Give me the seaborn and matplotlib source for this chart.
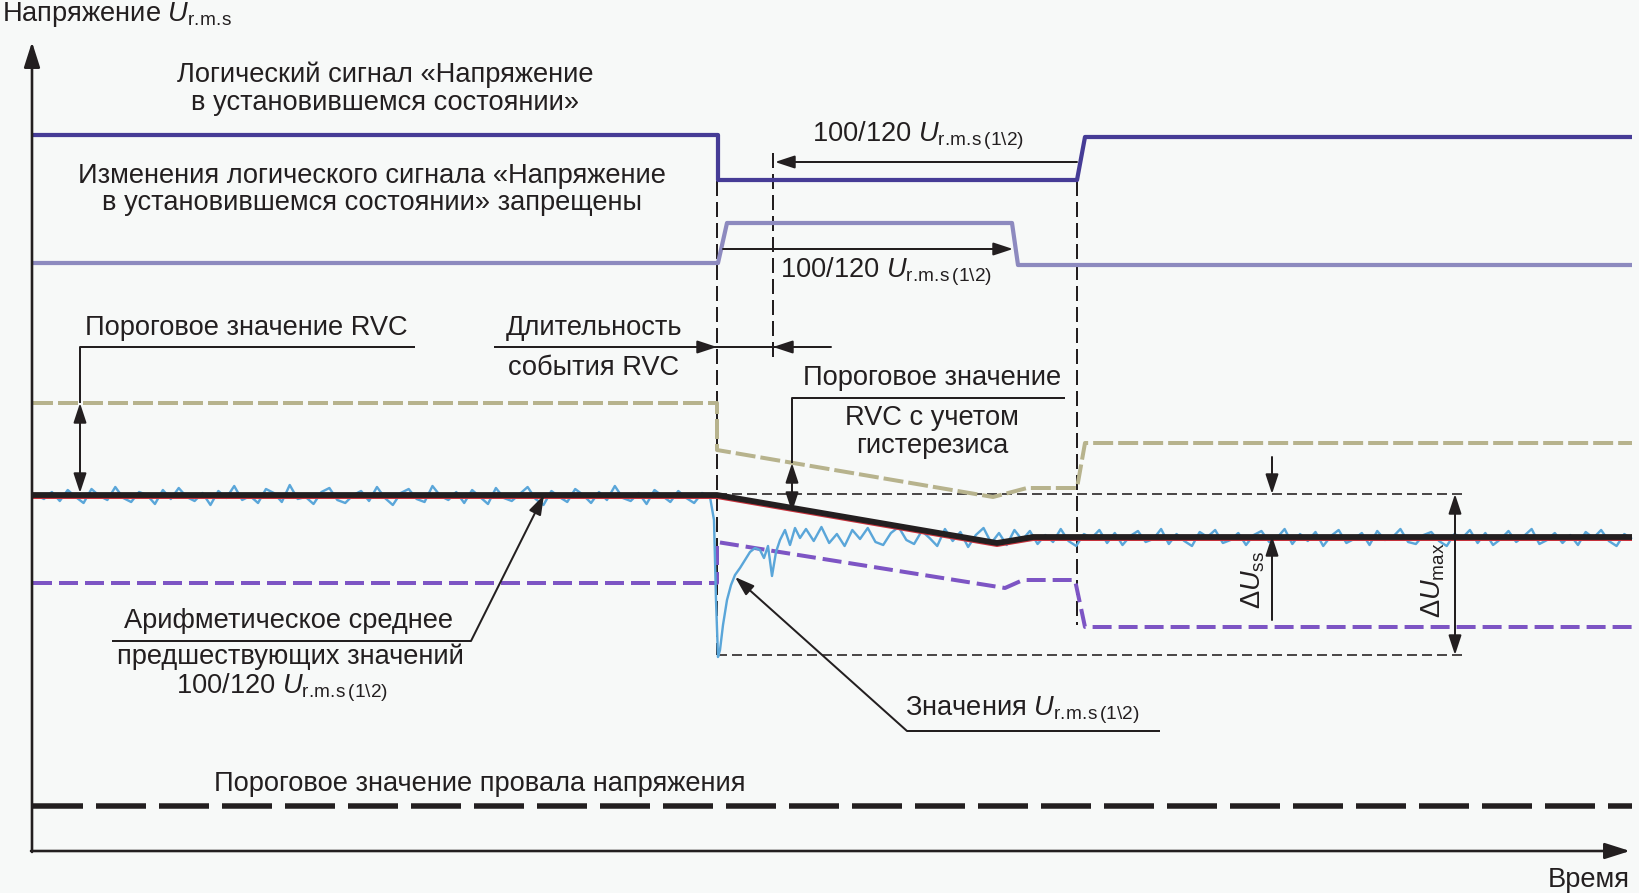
import numpy as np
import pandas as pd
import matplotlib
matplotlib.use("Agg")
import matplotlib.pyplot as plt
import seaborn as sns

# ---------------- data (time in px-like units, level in px-like units, axis inverted) -------------
time_sig1 = [33, 718, 718, 1077, 1085, 1632]
u_sig1 = [135, 135, 180, 180, 137, 137]

time_sig2 = [33, 718, 727, 1012, 1018, 1632]
u_sig2 = [263, 263, 223, 223, 265, 265]

time_upper = [33, 717, 717, 993, 1027, 1077, 1085, 1632]
u_upper = [403, 403, 450, 497, 488, 488, 443, 443]

time_lower = [33, 717, 717, 1005, 1023, 1075, 1085, 1632]
u_lower = [583, 583, 542, 588, 580, 580, 627, 627]

time_mean = [33, 717, 997, 1033, 1632]
u_mean = [495, 495, 543, 537, 537]

time_dip = [33, 1632]
u_dip = [806, 806]

pre_level = 495
pre_dev = [0, 4, -3, 6, -5, 2, 8, -6, 1, 5, -8, 3, 7, -3, 0, 9, -5, 4, -7, 2,
           6, -2, 10, -4, 3, -9, 5, 1, 8, -6, -2, 7, -10, 4, 2, 9, -3, -7, 5, 8,
           0, -4, 6, -8, 3, 10, -2, -6, 4, 7, -9, 1, 5, -3, 8, -5, 2, 9, -7, 3,
           6, -1, -8, 4, 10, -4, 2, 7, -6, 0, 8, -3, 5, -9, 3, 6, -2, 9, -5, 1,
           7, -4, 3, 8, -2, 2]
dip_t = [714, 716, 718, 720, 723, 727, 731, 735, 740, 745, 750, 755, 760, 764,
         768, 772, 776, 780, 785, 790, 795, 800]
dip_u = [520, 600, 657, 650, 625, 600, 585, 575, 568, 560, 552, 548, 550, 558,
         546, 576, 552, 540, 530, 545, 528, 538]
post_level = 537
post_dev = [-8, 4, -10, 6, -3, 9, -7, 2, -9, 5, 8, -4, -10, 3, 7, -6, 1, 9, -8, 4,
            -5, 10, -2, -9, 6, -4, 8, -7,
            3, -6, 7, -2, 5, -8, 4, 9, -3, 1, -7, 6, -4, 8, -1, -6, 5, 2, -8, 7,
            -3, 4, 9, -5, 0, -7, 6, 3, -4, 8, -2, -6, 5, 1, -8, 7, -3, 4, -5, 9,
            -1, -7, 6, 2, -4, 8, -6, 3, 0, -8, 5, 7, -2, -5, 4, 9, -3, 1, -7, 6,
            -4, 8, 2, -6, 5, -1, -8, 7, 3, -4, 6, -2, 8, -5, 1, -7, 4, 9, -3, 2]

# ---------------- style -------------
sns.set_theme(style="white")
plt.rcParams["font.family"] = ["Liberation Sans", "DejaVu Sans"]
plt.rcParams["mathtext.fontset"] = "custom"
plt.rcParams["mathtext.rm"] = "Liberation Sans"
plt.rcParams["mathtext.it"] = "Liberation Sans:italic"
plt.rcParams["mathtext.bf"] = "Liberation Sans:bold"
plt.rcParams["lines.scale_dashes"] = False
plt.rcParams["lines.solid_capstyle"] = "butt"
plt.rcParams["lines.dash_capstyle"] = "butt"

INK = "#231f20"
C_SIG1 = "#463c96"
C_SIG2 = "#8d8abf"
C_UP = "#b7b38d"
C_LOW = "#7d55c4"
C_BLUE = "#5aa6d9"
C_RED = "#c8323c"
BG = "#f7f9f8"
FS = 19.6
PX = 0.72  # px -> pt at 100 dpi

fig = plt.figure(figsize=(16.4, 8.93), dpi=100, facecolor=BG)
ax = fig.add_axes([0, 0, 1, 1])
ax.set_facecolor(BG)


def line(t, u, color, lw_px, dashes=None, z=2):
    df = pd.DataFrame({"t": t, "u": u})
    sns.lineplot(data=df, x="t", y="u", sort=False, estimator=None, color=color,
                 lw=lw_px * PX, ax=ax, legend=False)
    ln = ax.lines[-1]
    if dashes is not None:
        ln.set_dashes([d * PX for d in dashes])
    ln.set_zorder(z)
    return ln


# signals
line(time_sig1, u_sig1, C_SIG1, 4.2, z=3)
line(time_sig2, u_sig2, C_SIG2, 4.2, z=3)
line(time_upper, u_upper, C_UP, 4.0, dashes=(20, 5), z=3)
line(time_lower, u_lower, C_LOW, 4.0, dashes=(19, 7), z=3)
line(time_dip, u_dip, INK, 5.5, dashes=(50, 13), z=3)

# noisy half-cycle values
blue_t = list(np.linspace(36, 710, len(pre_dev))) + dip_t + list(np.linspace(806, 1632, len(post_dev)))
blue_u = [pre_level + d for d in pre_dev] + dip_u + [post_level + d for d in post_dev]
line(blue_t, blue_u, C_BLUE, 2.4, z=4)

# arithmetic mean line (black with red edge)
line(time_mean, [u + 2.5 for u in u_mean], C_RED, 3.0, z=5)
line(time_mean, u_mean, INK, 5.8, z=6)

# thin black dashed reference lines
ref_dash = (10, 5)
line([717, 1466], [494, 494], INK, 1.6, dashes=ref_dash, z=2)
line([717, 1466], [655, 655], INK, 1.6, dashes=ref_dash, z=2)
vdash = (15, 6)
line([717, 717], [181, 655], INK, 2.0, dashes=vdash, z=2)
line([773, 773], [153, 362], INK, 2.0, dashes=vdash, z=2)
line([1077, 1077], [181, 625], INK, 2.0, dashes=vdash, z=2)

# axes arrows
ax.annotate("", xy=(32, 42), xytext=(32, 852),
            arrowprops=dict(arrowstyle="-|>,head_length=1.1,head_width=0.35",
                            mutation_scale=14, lw=2.6 * PX, color=INK, shrinkA=0, shrinkB=0), zorder=7)
ax.annotate("", xy=(1630, 851), xytext=(31, 851),
            arrowprops=dict(arrowstyle="-|>,head_length=1.1,head_width=0.35",
                            mutation_scale=14, lw=2.6 * PX, color=INK, shrinkA=0, shrinkB=0), zorder=7)


def arrow(x0, y0, x1, y1, style="-|>"):
    ax.annotate("", xy=(x1, y1), xytext=(x0, y0),
                arrowprops=dict(arrowstyle=f"{style},head_length=0.85,head_width=0.28",
                                mutation_scale=14, lw=2.0 * PX, color=INK,
                                shrinkA=0, shrinkB=0), zorder=8)


def seg(xs, ys, lw=2.0):
    ax.plot(xs, ys, color=INK, lw=lw * PX, zorder=8, solid_capstyle="butt")


# 100/120 arrows
arrow(1077, 162, 775, 162)
arrow(723, 249, 1013, 249)

# RVC event duration
seg([494, 831], [347, 347])
arrow(600, 347, 717, 347)
arrow(831, 347, 773, 347)

# RVC threshold leader and double arrow
seg([415, 80, 80], [347, 347, 403])
arrow(80, 403, 80, 493, style="<|-|>")

# hysteresis leader
seg([1065, 792, 792], [398, 398, 463])
arrow(792, 463, 792, 512, style="<|-|>")

# arithmetic mean leader
seg([112, 471], [641, 641])
arrow(471, 641, 544, 495)

# half-cycle values leader
seg([907, 1160], [731, 731])
arrow(907, 731, 735, 577)

# delta U ss
arrow(1272, 457, 1272, 494)
arrow(1272, 620, 1272, 536)
# delta U max
arrow(1455, 494, 1455, 655, style="<|-|>")

# ---------------- texts -------------
T = dict(color=INK, fontsize=FS, va="baseline", zorder=10)
RMS = r"\mathrm{r.\!m.\!s}"
U12 = r"100/120 $U_{" + RMS + r"\,(1\backslash2)}$"

ax.text(2, 21, r"Напряжение $U_{" + RMS + r"}$", ha="left", **T)
ax.text(385, 82, "Логический сигнал «Напряжение", ha="center", **T)
ax.text(385, 110, "в установившемся состоянии»", ha="center", **T)
ax.text(372, 183, "Изменения логического сигнала «Напряжение", ha="center", **T)
ax.text(372, 210, "в установившемся состоянии» запрещены", ha="center", **T)
ax.text(812, 142, U12, ha="left", **T)
ax.text(780, 277, U12, ha="left", **T)
ax.text(85, 335, "Пороговое значение RVC", ha="left", **T)
ax.text(594, 335, "Длительность", ha="center", **T)
ax.text(594, 375, "события RVC", ha="center", **T)
ax.text(932, 385, "Пороговое значение", ha="center", **T)
ax.text(932, 425, "RVC с учетом", ha="center", **T)
ax.text(932, 453, "гистерезиса", ha="center", **T)
ax.text(289, 628, "Арифметическое среднее", ha="center", **T)
ax.text(290, 664, "предшествующих значений", ha="center", **T)
ax.text(282, 693, U12, ha="center", **T)
ax.text(905, 715, r"Значения $U_{" + RMS + r"\,(1\backslash2)}$", ha="left", **T)
ax.text(214, 791, "Пороговое значение провала напряжения", ha="left", **T)
ax.text(1548, 887, "Время", ha="left", **T)

ax.text(1253, 580, r"$\Delta U_{\mathrm{ss}}$", rotation=90, ha="center", va="center",
        color=INK, fontsize=FS, zorder=10)
ax.text(1433, 580, r"$\Delta U_{\mathrm{max}}$", rotation=90, ha="center", va="center",
        color=INK, fontsize=FS, zorder=10)

ax.set_xlim(0, 1640)
ax.set_ylim(893, 0)
ax.axis("off")

fig.savefig("out.png", dpi=100, facecolor=BG)
